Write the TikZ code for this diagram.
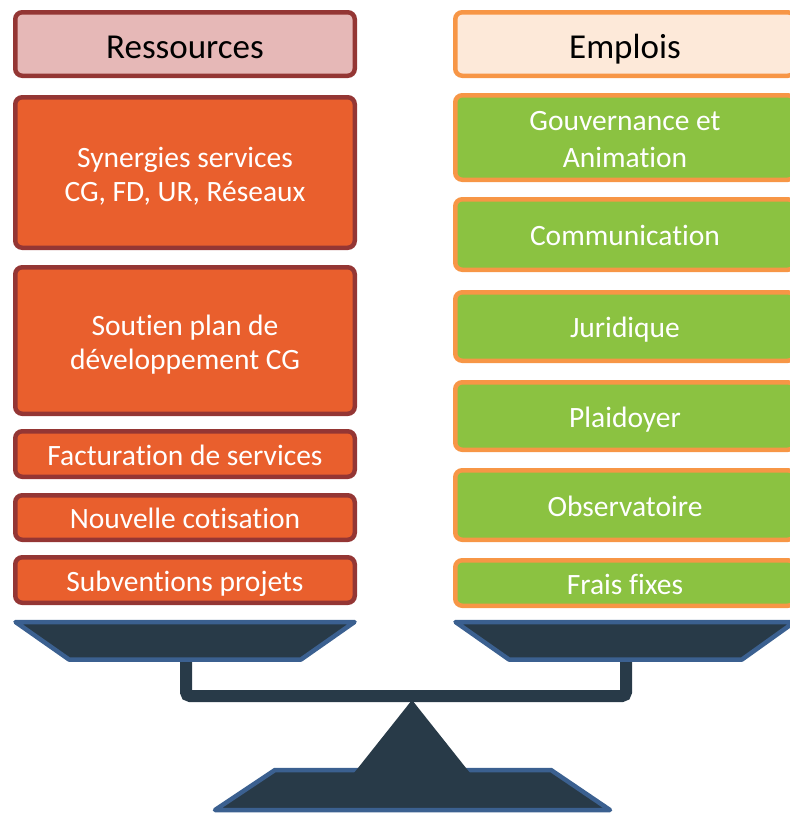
\documentclass[tikz,border=0pt]{standalone}
\usepackage{fontspec}
\setmainfont{Carlito}[Ligatures=NoCommon]
\definecolor{darkred}{HTML}{943634}
\definecolor{pinkfill}{HTML}{E6B8B7}
\definecolor{orangefill}{HTML}{E95F2D}
\definecolor{peach}{HTML}{FDE9D9}
\definecolor{orangeline}{HTML}{F79646}
\definecolor{greenfill}{HTML}{8BC241}
\definecolor{scaledark}{HTML}{283A48}
\definecolor{scaleblue}{HTML}{3B6090}
\newcommand{\firststrut}{\rule{0pt}{32pt}}
\begin{document}
\begin{tikzpicture}[x=1pt,y=-1pt,
  basebox/.style={rectangle, rounded corners=7pt, line width=4.5pt, minimum width=339.5pt, inner sep=0pt, align=center},
  hdrstrut/.style={execute at begin node={\rule{0pt}{36pt}}, execute at end node={\rule[-8pt]{0pt}{8pt}}},
  bodystrut/.style={execute at begin node={\rule{0pt}{31pt}}, execute at end node={\rule[-9pt]{0pt}{9pt}}},
  hdrl/.style={basebox, hdrstrut, draw=darkred, fill=pinkfill, text=black, font=\fontsize{35}{40}\selectfont},
  resbox/.style={basebox, bodystrut, draw=darkred, fill=orangefill, text=white, font=\fontsize{29.5}{34}\selectfont},
  hdrr/.style={basebox, hdrstrut, draw=orangeline, fill=peach, text=black, font=\fontsize{35}{40}\selectfont},
  empbox/.style={basebox, bodystrut, draw=orangeline, fill=greenfill, text=white, font=\fontsize{29.5}{37}\selectfont},
  pan/.style={fill=scaledark, draw=scaleblue, line width=4.5pt, line join=round}
]
\useasboundingbox (0,0) rectangle (790,815);
\begin{scope}
\clip (0,0) rectangle (790,815);
% Left column
\node[hdrl, minimum height=63.5pt] (hl) at (185,44) {Ressources};
\node[resbox, minimum height=150.5pt] (l1) at (185,172.5) {\firststrut Synergies services\\CG, FD, UR, Réseaux};
\node[resbox, minimum height=146.5pt] (l2) at (185,340.5) {\firststrut Soutien plan de\\développement CG};
\node[resbox, minimum height=45.5pt] (l3) at (185,454) {Facturation de services};
\node[resbox, minimum height=44.5pt] (l4) at (185,517.5) {Nouvelle cotisation};
\node[resbox, minimum height=45.5pt] (l5) at (185,580) {Subventions projets};
% Right column
\node[hdrr, minimum height=63.5pt] (hr) at (625,44) {Emplois};
\node[empbox, minimum height=84.5pt] (r1) at (625,137.5) {\firststrut Gouvernance et\\Animation};
\node[empbox, minimum height=70.5pt] (r2) at (625,234.5) {Communication};
\node[empbox, minimum height=68.5pt] (r3) at (625,326.5) {Juridique};
\node[empbox, minimum height=67.5pt] (r4) at (625,416) {Plaidoyer};
\node[empbox, minimum height=69.5pt] (r5) at (625,505) {Observatoire};
\node[empbox, minimum height=45.5pt] (r6) at (625,583) {Frais fixes};
% Beam
\coordinate (bl) at (186,658);
\coordinate (br) at (626,658);
\draw[scaledark, line width=12pt, rounded corners=4pt] (bl) -- (186,696) -- (626,696) -- (br);
% Pans
\draw[pan] (15.5,622) -- (354.5,622) -- (301,659.5) -- (69,659.5) -- cycle;
\draw[pan] (455.5,622) -- (794.5,622) -- (742,659.5) -- (509,659.5) -- cycle;
% Base
\draw[pan] (275,770) -- (551,770) -- (610,810) -- (215,810) -- cycle;
\fill[scaledark] (412,700) -- (354,773) -- (470,773) -- cycle;
\end{scope}
\end{tikzpicture}
\end{document}
